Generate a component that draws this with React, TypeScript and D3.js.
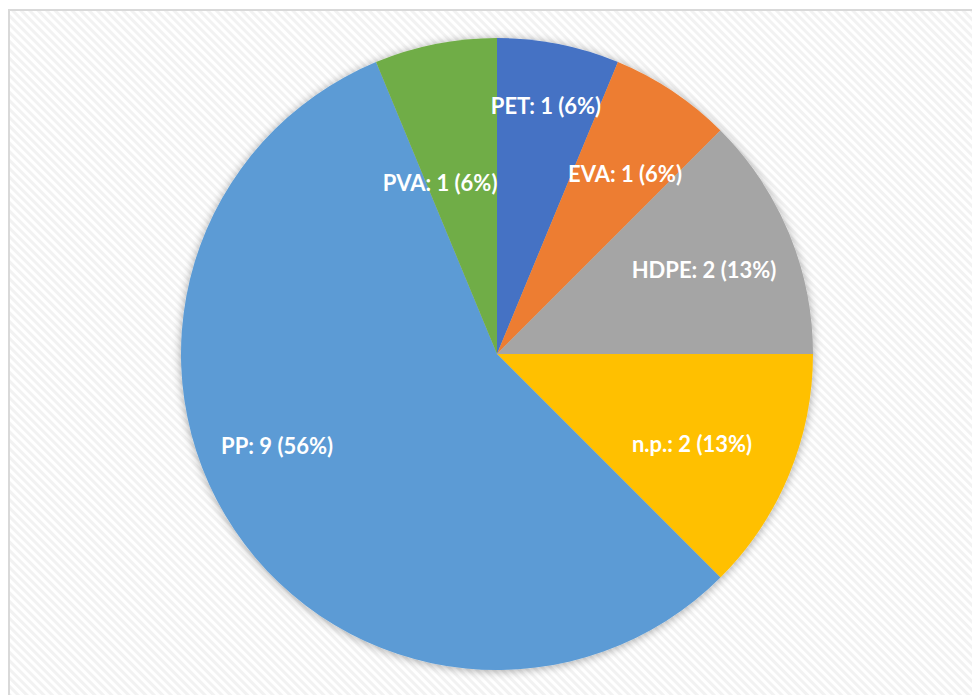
import React, { useMemo } from "react";
import * as d3 from "d3";

const categories = ["PET", "EVA", "HDPE", "n.p.", "PP", "PVA"];
const counts = [1, 1, 2, 2, 9, 1];
const percentLabels = ["6%", "6%", "13%", "13%", "56%", "6%"];
const colors = ["#4472C4", "#ED7D31", "#A5A5A5", "#FFC000", "#5B9BD5", "#70AD47"];
// label anchor positions in units of the radius, relative to the pie centre
const labelOffsets: [number, number][] = [
  [0.155, -0.785],
  [0.405, -0.57],
  [0.655, -0.266],
  [0.617, 0.282],
  [-0.696, 0.291],
  [-0.18, -0.544],
];

const W = 972;
const H = 695;
const CX = 497;
const CY = 354;
const R = 316;

export default function App() {
  const arcs = useMemo(() => {
    const pie = d3
      .pie<number>()
      .sort(null)
      .value((d) => d)
      .startAngle(0)
      .endAngle(2 * Math.PI);
    return pie(counts);
  }, []);
  const arcGen = d3.arc<d3.PieArcDatum<number>>().innerRadius(0).outerRadius(R);

  return (
    <svg
      width={W}
      height={H}
      style={{ position: "absolute", left: 0, top: 0, display: "block" }}
    >
      <defs>
        <pattern id="hatch" width="6" height="6" patternUnits="userSpaceOnUse" patternTransform="rotate(-45)">
          <rect width="6" height="6" fill="#ffffff" />
          <rect width="3" height="6" fill="#f2f2f2" />
        </pattern>
        <filter id="shadow" x="-20%" y="-20%" width="140%" height="140%">
          <feGaussianBlur in="SourceAlpha" stdDeviation="5" />
          <feOffset dx="0" dy="1" result="b" />
          <feComponentTransfer>
            <feFuncA type="linear" slope="0.35" />
          </feComponentTransfer>
          <feMerge>
            <feMergeNode />
            <feMergeNode in="SourceGraphic" />
          </feMerge>
        </filter>
      </defs>
      <rect x={0} y={0} width={W} height={H} fill="#ffffff" />
      <rect x={9} y={10} width={W + 20} height={H + 20} fill="url(#hatch)" stroke="#d9d9d9" strokeWidth={2} />
      <g transform={`translate(${CX},${CY})`}>
        <g filter="url(#shadow)">
          {arcs.map((a, i) => (
            <path key={categories[i]} d={arcGen(a) || ""} fill={colors[i]} />
          ))}
        </g>
        {arcs.map((a, i) => (
          <text
            key={"l" + categories[i]}
            x={labelOffsets[i][0] * R}
            y={labelOffsets[i][1] * R}
            textAnchor="middle"
            dominantBaseline="central"
            fill="#ffffff"
            fontFamily="Lato, 'Open Sans', sans-serif"
            fontWeight={700}
            fontSize={22}
          >
            {`${categories[i]}: ${a.data} (${percentLabels[i]})`}
          </text>
        ))}
      </g>
    </svg>
  );
}
